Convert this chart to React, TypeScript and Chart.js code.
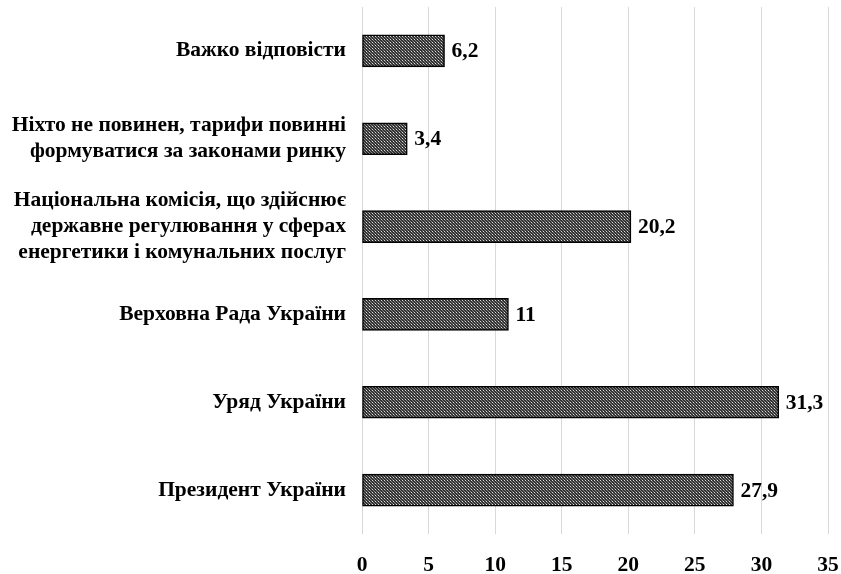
import React, { useEffect, useRef } from "react";
import { Chart, registerables } from "chart.js";
Chart.register(...registerables);

const categories: (string | string[])[] = [
  "Важко відповісти",
  ["Ніхто не повинен, тарифи повинні", "формуватися за законами ринку"],
  ["Національна комісія, що здійснює", "державне регулювання у сферах", "енергетики і комунальних послуг"],
  "Верховна Рада України",
  "Уряд України",
  "Президент України",
];
const values = [6.2, 3.4, 20.2, 11, 31.3, 27.9];
const xMin = 0;
const xMax = 35;
const xStep = 5;

function makePattern(): CanvasPattern | string {
  const c = document.createElement("canvas");
  c.width = 3;
  c.height = 3;
  const ctx = c.getContext("2d");
  if (!ctx) return "#555";
  ctx.fillStyle = "#333333";
  ctx.fillRect(0, 0, 3, 3);
  ctx.fillStyle = "#dcdcdc";
  ctx.fillRect(0, 0, 1, 1);
  ctx.fillStyle = "#858585";
  ctx.fillRect(1, 1, 1, 1);
  ctx.fillRect(2, 2, 1, 1);
  const p = ctx.createPattern(c, "repeat");
  return p || "#555";
}

const FONT = "'Liberation Serif', 'Times New Roman', serif";
const FS = 21.5;

const valueLabels = {
  id: "valueLabels",
  afterDatasetsDraw(chart: any) {
    const ctx = chart.ctx;
    const meta = chart.getDatasetMeta(0);
    ctx.save();
    ctx.font = `bold ${FS}px ${FONT}`;
    ctx.fillStyle = "#000";
    ctx.textAlign = "left";
    ctx.textBaseline = "middle";
    meta.data.forEach((bar: any, i: number) => {
      const txt = String(values[i]).replace(".", ",");
      ctx.fillText(txt, bar.x + 7, bar.y + 1);
    });
    ctx.restore();
  },
};

export default function App() {
  const ref = useRef<HTMLCanvasElement>(null);
  useEffect(() => {
    if (!ref.current) return;
    const chart = new Chart(ref.current, {
      type: "bar",
      data: {
        labels: categories,
        datasets: [
          {
            data: values,
            backgroundColor: makePattern() as any,
            borderColor: "#000",
            borderWidth: 1.5,
            borderSkipped: false,
            barThickness: 32,
          },
        ],
      },
      options: {
        indexAxis: "y",
        animation: false,
        responsive: false,
        layout: { padding: { top: 7, right: 13, left: 0, bottom: 0 } },
        plugins: { legend: { display: false }, tooltip: { enabled: false } },
        scales: {
          x: {
            min: xMin,
            max: xMax,
            ticks: {
              stepSize: xStep,
              color: "#000",
              font: { family: FONT, size: FS, weight: "bold" },
              padding: 19,
            },
            grid: { color: "#d9d9d9", lineWidth: 1, drawTicks: false },
            border: { display: false },
            afterFit: (s: any) => {
              s.height = 40;
              s.paddingLeft = 0;
              s.paddingRight = 0;
            },
          },
          y: {
            ticks: {
              color: "#000",
              font: { family: FONT, size: FS, weight: "bold", lineHeight: 1.21 },
              padding: 16,
            },
            grid: { display: false, drawTicks: false },
            border: { display: false },
            afterFit: (s: any) => {
              s.width = 362;
              s.paddingTop = 0;
              s.paddingBottom = 0;
            },
          },
        },
      },
      plugins: [valueLabels],
    });
    return () => chart.destroy();
  }, []);
  return (
    <div style={{ position: "fixed", left: 0, top: 0, width: 841, height: 574, background: "#fff" }}>
      <canvas ref={ref} width={841} height={574} style={{ width: 841, height: 574 }} />
    </div>
  );
}
